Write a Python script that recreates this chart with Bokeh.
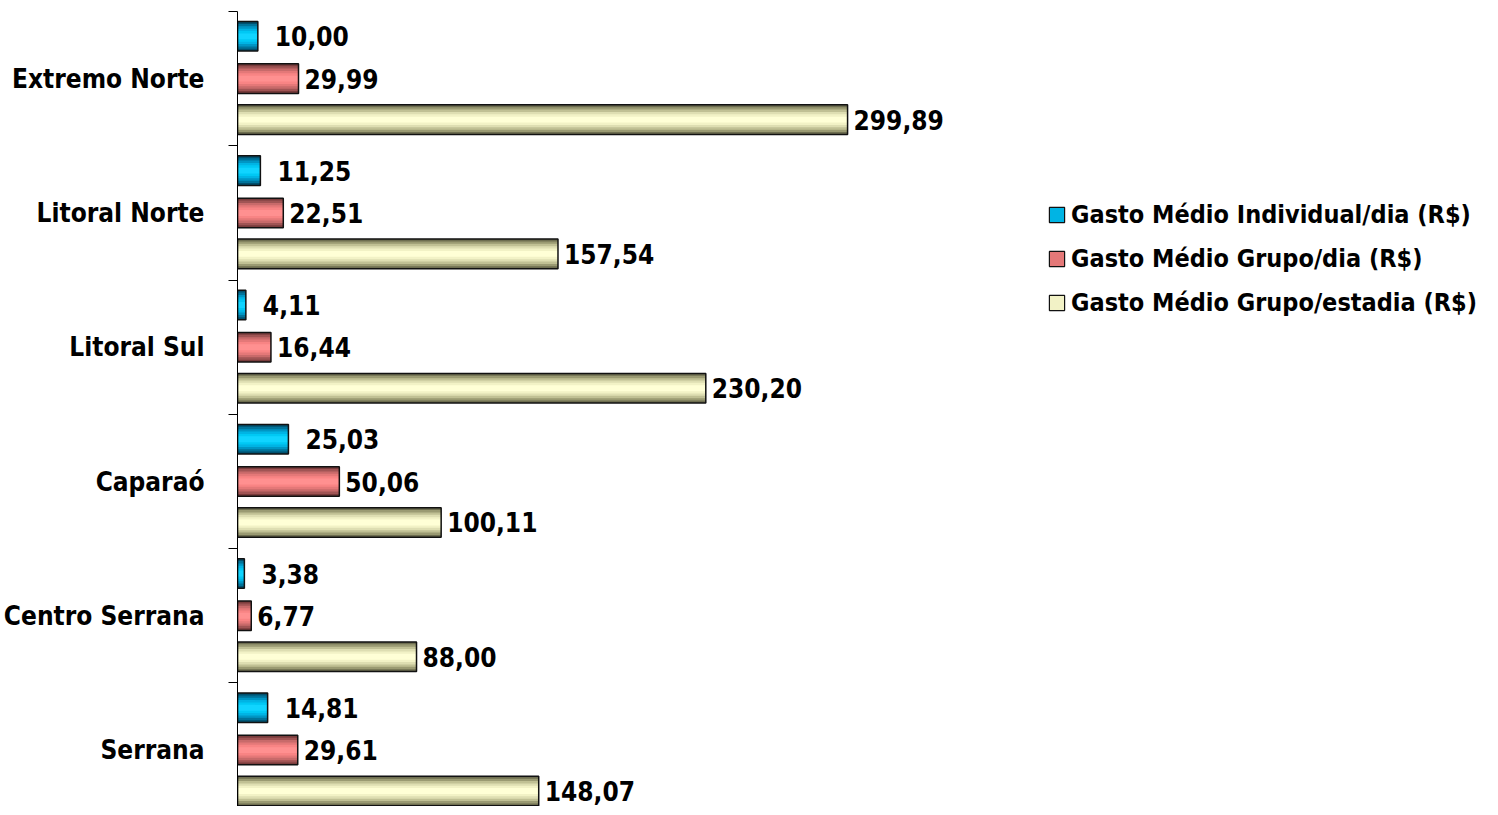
from bokeh.plotting import figure
from bokeh.models import ColumnDataSource, Range1d, FixedTicker, Legend, LegendItem, LabelSet
from bokeh.embed import file_html
from bokeh.resources import INLINE
from bokeh.core.properties import value

categories = ["Extremo Norte", "Litoral Norte", "Litoral Sul", "Caparaó", "Centro Serrana", "Serrana"]
individual_dia = [10.00, 11.25, 4.11, 25.03, 3.38, 14.81]
grupo_dia = [29.99, 22.51, 16.44, 50.06, 6.77, 29.61]
grupo_estadia = [299.89, 157.54, 230.20, 100.11, 88.00, 148.07]
series_names = ["Gasto Médio Individual/dia (R$)", "Gasto Médio Grupo/dia (R$)", "Gasto Médio Grupo/estadia (R$)"]

FONT_S = "'Liberation Sans Narrow', 'Arial Narrow', 'DejaVu Sans Condensed', sans-serif"
FONT = value(FONT_S)
FS = "26px"

# shading palettes (outer -> inner) to mimic the cylinder gradient
shades = [
    ["#00506e", "#00739a", "#0096c4", "#00b4e4", "#00c8f4", "#10d4ff"],
    ["#7a3c3c", "#a05454", "#c86a6a", "#e47878", "#f88484", "#ff9090"],
    ["#6e6e50", "#9a9a72", "#c0c094", "#dedeb2", "#f2f2c6", "#ffffd6"],
]
legend_fill = ["#00b4e4", "#e47878", "#f2f2c6"]
offsets = [-0.315, 0.0, 0.305]
label_dx = [17, 6, 6]
bar_h = 0.22

p = figure(width=1482, height=806, x_range=Range1d(0, 612), y_range=Range1d(5.92, 0),
           output_backend="svg", toolbar_location=None,
           min_border_left=10, min_border_top=11, min_border_bottom=0, min_border_right=0)
p.outline_line_color = None
p.xgrid.visible = False
p.ygrid.visible = False
p.xaxis.visible = False

legend_items = []
for s, vals in enumerate([individual_dia, grupo_dia, grupo_estadia]):
    ys = [i + 0.5 + offsets[s] for i in range(len(categories))]
    src = ColumnDataSource(dict(y=ys, right=vals,
                                txt=[f"{v:.2f}".replace(".", ",") for v in vals]))
    for k, col in enumerate(shades[s]):
        frac = 1.0 - k * 0.16
        p.hbar(y="y", left=0, right="right", height=bar_h * frac, source=src,
               fill_color=col, line_color=None)
    p.hbar(y="y", left=0, right="right", height=bar_h, source=src,
           fill_color=None, line_color="#111111", line_width=1.5)
    # zero-width proxy sharing the data, used only for the legend swatch
    proxy = p.hbar(y="y", left=0, right=0, height=bar_h, source=src,
                   fill_color=legend_fill[s], line_color="#111111", line_width=1.2)
    legend_items.append(LegendItem(label=series_names[s], renderers=[proxy]))
    labels = LabelSet(x="right", y="y", text="txt", source=src, x_offset=label_dx[s],
                      text_baseline="middle", text_align="left", text_font=FONT,
                      text_font_size=FS, text_font_style="bold", text_color="black")
    p.add_layout(labels)

yax = p.yaxis[0]
yax.ticker = FixedTicker(ticks=[i + 0.5 for i in range(len(categories))],
                         minor_ticks=list(range(len(categories) + 1)))
yax.major_label_overrides = {i + 0.5: c for i, c in enumerate(categories)}
yax.major_tick_line_color = None
yax.major_tick_out = 0
yax.major_tick_in = 0
yax.minor_tick_line_color = "black"
yax.minor_tick_out = 9
yax.minor_tick_in = 0
yax.axis_line_color = "black"
yax.axis_line_width = 1
yax.major_label_standoff = 24
yax.major_label_text_font = FONT_S
yax.major_label_text_font_size = FS
yax.major_label_text_font_style = "bold"
yax.major_label_text_color = "black"

legend = Legend(items=legend_items, location=(810, 486), orientation="vertical")
legend.background_fill_alpha = 0
legend.border_line_color = None
legend.padding = 0
legend.margin = 0
legend.spacing = 8
legend.glyph_width = 19
legend.glyph_height = 19
legend.label_height = 36
legend.label_standoff = 5
legend.label_text_font = FONT_S
legend.label_text_font_size = "25px"
legend.label_text_font_style = "bold"
legend.label_text_color = "black"
p.add_layout(legend, "center")

open("out.html", "w").write(file_html(p, INLINE))
